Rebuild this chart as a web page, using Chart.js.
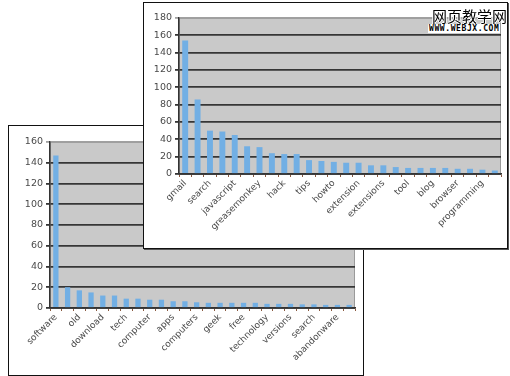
<!DOCTYPE html>
<html>
<head>
<meta charset="utf-8">
<script src="https://cdn.jsdelivr.net/npm/chart.js@4"></script>
<style>
  html, body { margin: 0; padding: 0; background: #fff; }
  body { width: 510px; height: 376px; position: relative; overflow: hidden; }
  .frame { position: absolute; border: 1px solid #111; background: #fff; }
  #back { left: 8px; top: 125px; width: 354px; height: 249px; }
  #front { left: 143px; top: 2px; width: 363px; height: 245px; box-shadow: 1px 1px 0 #555; }
  canvas { display: block; }
  .wm1 { position: absolute; left: 432px; top: 5px; font: 15px "Noto Sans CJK SC"; color: #000;
         text-shadow: 1px 0 #fff, -1px 0 #fff, 0 1px #fff, 0 -1px #fff; }
  .wm2 { position: absolute; left: 428px; top: 24px; font: bold 8px "DejaVu Sans Mono"; color: #000;
         background: #fff; padding: 0 1px; letter-spacing: 0.6px; }
</style>
</head>
<body>
<div class="frame" id="back"><canvas id="backChart" width="354" height="249"></canvas></div>
<div class="frame" id="front"><canvas id="frontChart" width="363" height="245"></canvas></div>
<div class="wm1">网页教学网</div>
<div class="wm2">WWW.WEBJX.COM</div>
<script>
// tag counts - front chart (only every other label is printed)
const frontLabels = ['gmail', '', 'search', '', 'javascript', '', 'greasemonkey', '', 'hack', '', 'tips', '',
    'howto', '', 'extension', '', 'extensions', '', 'tool', '', 'blog', '', 'browser', '', 'programming', ''];
const frontValues = [154, 86, 50, 49, 45, 32, 31, 24, 23, 23, 16, 15, 14, 13, 13, 10, 10, 8, 7, 7, 7, 7, 6, 6, 5, 4];
const frontTicks = { min: 0, max: 180, step: 20 };

// tag counts - back chart
const backLabels = ['software', '', 'old', '', 'download', '', 'tech', '', 'computer', '', 'apps', '',
    'computers', '', 'geek', '', 'free', '', 'technology', '', 'versions', '', 'search', '', 'abandonware', ''];
const backValues = [147, 20, 17, 15, 12, 12, 9, 9, 8, 8, 6.5, 6.5, 5.5, 5, 5, 5, 5, 5, 4, 4, 4, 3.5, 3.5, 3, 3, 3];
const backTicks = { min: 0, max: 160, step: 20 };

const plotBg = {
    id: 'plotBg',
    beforeDraw(chart) {
        const a = chart.chartArea, ctx = chart.ctx;
        ctx.save();
        ctx.fillStyle = '#c9c9c9';
        ctx.fillRect(a.left, a.top, a.right - a.left, a.bottom - a.top);
        ctx.strokeStyle = '#9a9a9a';
        ctx.lineWidth = 1;
        ctx.strokeRect(a.left + 0.5, a.top + 0.5, a.right - a.left - 1, a.bottom - a.top);
        ctx.restore();
    }
};

function makeChart(canvas, labels, values, ticks, dims) {
    return new Chart(canvas.getContext('2d'), {
        type: 'bar',
        data: {
            labels: labels,
            datasets: [{
                data: values,
                backgroundColor: '#72afe4',
                borderWidth: 0,
                barPercentage: dims.bar,
                categoryPercentage: 1
            }]
        },
        options: {
            responsive: false,
            animation: false,
            layout: { padding: { top: dims.top, right: dims.right, left: 0, bottom: 0 } },
            plugins: { legend: { display: false }, tooltip: { enabled: false } },
            scales: {
                x: {
                    grid: { drawOnChartArea: false, drawTicks: true, tickLength: 3, color: '#8a5a40', offset: true },
                    border: { display: true, color: '#333', width: 1.5 },
                    ticks: {
                        autoSkip: false, minRotation: 45, maxRotation: 45, padding: 1,
                        color: '#4a4a4a', font: { family: 'DejaVu Sans', size: 9 }
                    },
                    afterFit(scale) { scale.height = dims.xh; }
                },
                y: {
                    min: ticks.min, max: ticks.max,
                    grid: {
                        // top line of the plot is only the light frame edge
                        color: c => (c.tick && c.tick.value === ticks.max) ? '#a0a0a0' : '#363636',
                        lineWidth: 1.8, tickLength: 4
                    },
                    border: { display: true, color: '#333', width: 1.5 },
                    ticks: {
                        stepSize: ticks.step, padding: 3,
                        color: '#4a4a4a', font: { family: 'DejaVu Sans', size: 9.5 }
                    },
                    afterFit(scale) { scale.width = dims.yw; }
                }
            }
        },
        plugins: [plotBg]
    });
}

makeChart(document.getElementById('backChart'), backLabels, backValues, backTicks,
    { top: 16, right: 8, xh: 67, yw: 41, bar: 0.45 });
makeChart(document.getElementById('frontChart'), frontLabels, frontValues, frontTicks,
    { top: 15, right: 6, xh: 74, yw: 35, bar: 0.48 });
</script>
</body>
</html>
